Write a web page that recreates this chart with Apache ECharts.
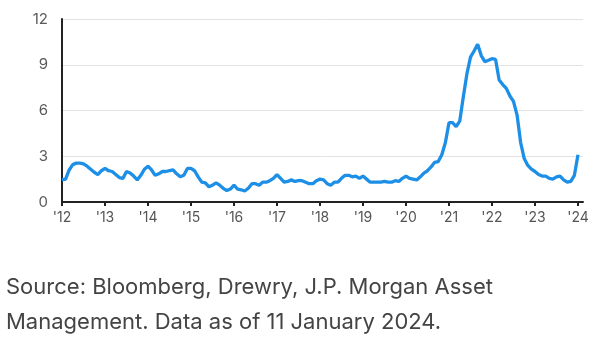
<!DOCTYPE html>
<html>
<head>
<meta charset="utf-8">
<script src="https://cdn.jsdelivr.net/npm/echarts@6/dist/echarts.min.js"></script>
<style>
html,body{margin:0;padding:0;background:#fff;}
#chart{width:600px;height:342px;}
</style>
</head>
<body>
<div id="chart"></div>
<script>
// Monthly values, Jan 2012 .. Jan 2024
const startYear = 2012;
const values = [
  1.45,1.5,2.1,2.45,2.55,2.55,2.5,2.35,2.15,1.95,1.8,2.05,
  2.2,2.05,2.0,1.8,1.6,1.55,2.0,1.9,1.7,1.45,1.75,2.15,
  2.35,2.1,1.75,1.85,2.0,2.0,2.05,2.1,1.85,1.65,1.75,2.2,
  2.2,2.05,1.65,1.3,1.25,1.0,1.1,1.25,1.1,0.9,0.75,0.85,
  1.1,0.85,0.8,0.72,0.9,1.2,1.2,1.1,1.3,1.3,1.4,1.55,
  1.8,1.55,1.3,1.35,1.45,1.35,1.4,1.4,1.3,1.2,1.2,1.4,
  1.5,1.45,1.2,1.1,1.3,1.3,1.55,1.75,1.75,1.65,1.7,1.55,
  1.7,1.5,1.3,1.3,1.3,1.3,1.35,1.3,1.3,1.4,1.35,1.55,
  1.7,1.55,1.5,1.45,1.65,1.9,2.05,2.3,2.6,2.65,3.1,3.9,
  5.2,5.2,4.95,5.3,6.9,8.4,9.5,9.9,10.35,9.6,9.2,9.3,
  9.4,9.35,8.0,7.7,7.45,6.95,6.6,5.7,3.9,2.85,2.4,2.15,
  2.0,1.8,1.7,1.7,1.55,1.5,1.65,1.7,1.45,1.3,1.35,1.75,
  3.1
];
const yTicks = [0, 3, 6, 9, 12];
const xTickYears = ["'12","'13","'14","'15","'16","'17","'18","'19","'20","'21","'22","'23","'24"];
const sourceLines = [
  "Source: Bloomberg, Drewry, J.P. Morgan Asset",
  "Management. Data as of 11 January 2024."
];

const points = values.map((v, i) => [i, v]);
const FONT = 'Inter, Roboto, sans-serif';

const chart = echarts.init(document.getElementById('chart'), null, {renderer: 'canvas'});
chart.setOption({
  animation: false,
  backgroundColor: '#ffffff',
  grid: {left: 62, right: 17, top: 19, bottom: 140, containLabel: false},
  xAxis: {
    type: 'value',
    min: 0,
    max: 145.4,
    interval: 12,
    splitLine: {show: false},
    axisLine: {show: true, lineStyle: {color: '#222', width: 2}},
    axisTick: {show: true, length: 4, lineStyle: {color: '#222', width: 2}},
    axisLabel: {
      showMaxLabel: false,
      margin: 9,
      color: '#555',
      fontSize: 14,
      fontFamily: FONT,
      formatter: v => { const k = Math.round(v / 12); return (v % 12 === 0 && k < xTickYears.length) ? xTickYears[k] : ''; }
    }
  },
  yAxis: {
    type: 'value',
    min: yTicks[0],
    max: yTicks[yTicks.length - 1],
    interval: 3,
    axisLine: {show: true, lineStyle: {color: '#222', width: 2}},
    axisTick: {show: false},
    splitLine: {show: true, lineStyle: {color: '#e2e2e2', width: 1}},
    axisLabel: {margin: 14, color: '#5a5a5a', fontSize: 15, fontFamily: FONT}
  },
  series: [{
    type: 'line',
    data: points,
    showSymbol: false,
    smooth: false,
    lineStyle: {color: '#1d8fe6', width: 3.3},
    z: 5
  }],
  graphic: sourceLines.map((t, i) => ({
    type: 'text',
    left: 6,
    top: 276 + i * 35,
    style: {text: t, fill: '#444', font: '22px ' + FONT}
  }))
});
</script>
</body>
</html>
